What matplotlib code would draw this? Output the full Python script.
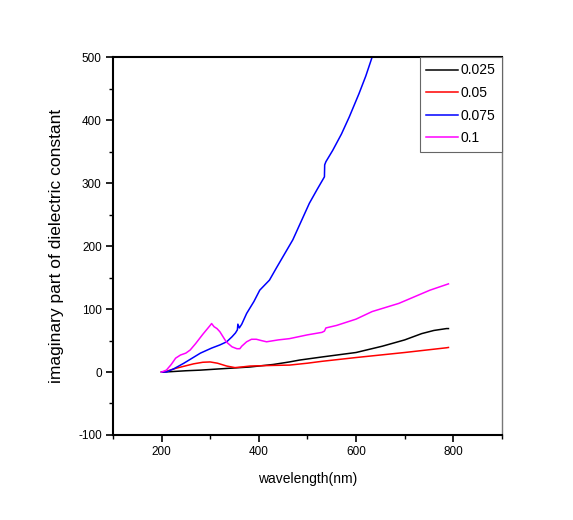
import numpy as np
import matplotlib
matplotlib.use('Agg')
import matplotlib.pyplot as plt
from matplotlib.ticker import MultipleLocator

plt.rcParams['font.family'] = ['Liberation Sans', 'DejaVu Sans']
plt.rcParams['axes.unicode_minus'] = False

# 数据：读自原图（波长 nm，介电常数虚部）
wl_025 = [200, 218, 250, 280, 320, 382, 430, 463, 484, 531, 600, 654, 700, 735, 760, 786, 790]
eps_025 = [0, 0.5, 2, 3, 5, 8, 12, 16, 19, 24, 31, 41, 51, 61, 66, 69, 69]

wl_05 = [200, 205, 230, 266, 285, 300, 315, 334, 351, 365, 382, 430, 463, 500, 530, 600, 700, 786, 790]
eps_05 = [0, 0, 6, 13, 15.5, 16, 14, 9.5, 7, 8, 9.5, 10.5, 11, 14, 17, 23, 31, 38.5, 39]

wl_075 = [200, 210, 225, 246, 280, 303, 320, 334, 345, 352, 356, 357, 360, 365, 375, 390, 402,
          422, 436, 470, 504, 520, 535, 535.5, 538, 552, 570, 586, 606, 620, 633]
eps_075 = [0, 0, 5, 14, 30, 38, 43, 48, 56, 62, 67, 76, 70, 76, 93, 112, 130,
           146, 165, 210, 268, 290, 310, 329, 334, 352, 378, 405, 442, 470, 500]

wl_1 = [200, 210, 220, 229, 239, 250, 259, 270, 285, 300, 303, 308, 314, 320, 333, 345, 355, 361,
        365, 375, 385, 395, 405, 416, 440, 463, 500, 530, 535, 538, 560, 600, 633, 688, 752, 790]
eps_1 = [0, 3, 12, 22, 27, 30, 35, 45, 60, 74, 77, 72, 69, 64, 48, 40, 37, 37,
         41, 48, 52, 52, 50, 48, 51, 53, 59, 63, 65, 70, 74, 84, 96, 109, 130, 140]

fig = plt.figure(figsize=(5.73, 5.20), dpi=100)
ax = fig.add_axes([0.197, 0.1635, 0.679, 0.7265])

ax.plot(wl_025, eps_025, color='black', lw=1.1, label='0.025')
ax.plot(wl_05, eps_05, color='red', lw=1.1, label='0.05')
ax.plot(wl_075, eps_075, color='blue', lw=1.1, label='0.075')
ax.plot(wl_1, eps_1, color='magenta', lw=1.1, label='0.1')

ax.set_xlim(100, 900)
ax.set_ylim(-100, 500)
ax.set_xticks([200, 400, 600, 800])
ax.xaxis.set_minor_locator(MultipleLocator(100))
ax.yaxis.set_major_locator(MultipleLocator(100))
ax.yaxis.set_minor_locator(MultipleLocator(50))
ax.tick_params(which='major', direction='out', length=5, width=1.2, labelsize=8.5, pad=3)
ax.tick_params(which='minor', direction='out', length=3, width=1.0)
ax.tick_params(top=False, right=False, which='both')

for s in ['left', 'bottom', 'top']:
    ax.spines[s].set_linewidth(1.5)
    ax.spines[s].set_color('black')
ax.spines['right'].set_linewidth(1.0)
ax.spines['right'].set_color('#777777')

ax.set_xlabel('wavelength(nm)', fontsize=10, labelpad=10)
ax.set_ylabel('imaginary part of dielectric constant', fontsize=12.5, labelpad=10)

leg = ax.legend(loc='upper right', bbox_to_anchor=(1, 1), borderaxespad=0, fontsize=10,
                fancybox=False, framealpha=1, edgecolor='#666666', handlelength=2.3,
                handletextpad=0.2, borderpad=0.45, labelspacing=0.62)
leg.get_frame().set_linewidth(0.8)

fig.savefig('out.png', dpi=100)
